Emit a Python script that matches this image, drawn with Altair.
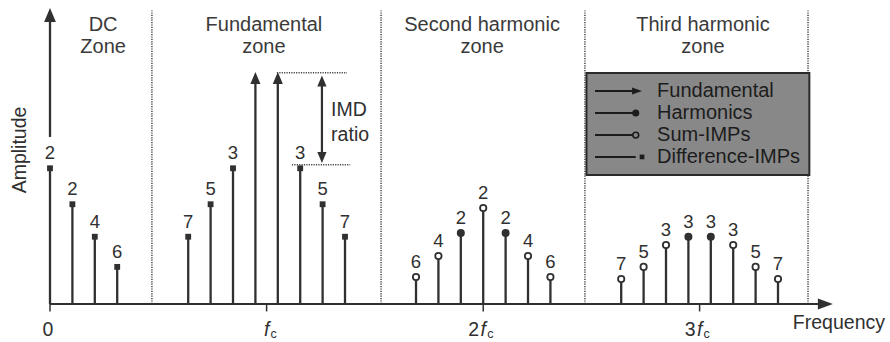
import altair as alt
import pandas as pd

# ---------------- data (frequency in units of tone spacing, amplitude: fundamental = 100) -------------
dc_freq = [0, 1, 2, 3]
dc_amp = [58.5, 43, 29, 16]
dc_order = ["2", "2", "4", "6"]

fund_freq = [9.17, 10.17]
fund_amp = [100, 100]

fimp_freq = [6.17, 7.17, 8.17, 11.17, 12.17, 13.17]
fimp_amp = [29, 43, 58.5, 58.5, 43, 29]
fimp_order = ["7", "5", "3", "3", "5", "7"]

sh_freq = [16.34, 17.34, 18.34, 19.34, 20.34, 21.34, 22.34]
sh_amp = [11.6, 20.7, 30.6, 41.4, 30.6, 20.7, 11.6]
sh_order = ["6", "4", "2", "2", "2", "4", "6"]
sh_kind = ["sum", "sum", "harm", "sum", "harm", "sum", "sum"]

th_freq = [25.5, 26.5, 27.5, 28.5, 29.5, 30.5, 31.5, 32.5]
th_amp = [10.8, 16, 25.4, 29, 29, 25.4, 16, 10.8]
th_order = ["7", "5", "3", "3", "3", "3", "5", "7"]
th_kind = ["sum", "sum", "sum", "harm", "harm", "sum", "sum", "sum"]

zone_bounds = [4.55, 14.78, 23.88, 33.84]
zone_top = 126.5
zone_centres = [2.37, 9.55, 19.29, 29.15]
zone_line1 = ["DC", "Fundamental", "Second harmonic", "Third harmonic"]
zone_line2 = ["Zone", "zone", "zone", "zone"]

tick_freq = [0, 9.67, 19.34, 29.0]
tick_prefix = ["", "", "2", "3"]

legend_labels = ["Fundamental", "Harmonics", "Sum-IMPs", "Difference-IMPs"]
legend_kind = ["arrow", "harm", "sum", "diff"]
legend_y = [91.8, 82.3, 72.8, 63.4]

imd_top = 99.7
imd_bottom = 60.0

# ---------------- helpers -------------
INK = "#303030"
FONT = "Liberation Sans"
xs = alt.Scale(domain=[-2.2321, 37.5], nice=False, zero=False)
ys = alt.Scale(domain=[-16.379, 131.034], nice=False, zero=False)

UP = "M0,0L-0.42,1L0.42,1Z"
DOWN = "M0,0L-0.42,-1L0.42,-1Z"
RIGHT = "M0,0L-1,-0.36L-1,0.36Z"


def X(f="f"):
    return alt.X(f"{f}:Q", scale=xs, axis=None)


def Y(f="a"):
    return alt.Y(f"{f}:Q", scale=ys, axis=None)


stems = pd.DataFrame({
    "f": dc_freq + fimp_freq + sh_freq + th_freq,
    "a": dc_amp + fimp_amp + sh_amp + th_amp,
    "o": dc_order + fimp_order + sh_order + th_order,
    "k": ["diff"] * 4 + ["diff"] * 6 + sh_kind + th_kind,
})
stems["b"] = 0.0

fund = pd.DataFrame({"f": fund_freq, "a": fund_amp, "b": 0.0})

layers = []

# zone dividers
div = pd.DataFrame({"f": zone_bounds, "b": 0.0, "t": zone_top})
layers.append(alt.Chart(div).mark_rule(color="#444", strokeWidth=1.5, strokeDash=[1.2, 1.2]).encode(
    x=X(), y=Y("b"), y2="t:Q"))

# stems
layers.append(alt.Chart(stems).mark_rule(color=INK, strokeWidth=2.3).encode(x=X(), y=Y("b"), y2="a:Q"))

# fundamental arrows
layers.append(alt.Chart(fund).transform_calculate(t="datum.a - 5/2.32").mark_rule(
    color=INK, strokeWidth=2.3).encode(x=X(), y=Y("b"), y2="t:Q"))
layers.append(alt.Chart(fund).mark_point(shape=UP, size=576, filled=True, color=INK, opacity=1,
                                         strokeWidth=0).encode(x=X(), y=Y()))

# markers
layers.append(alt.Chart(stems).transform_filter("datum.k == 'diff'").mark_point(
    shape="square", size=34, filled=True, color=INK, opacity=1).encode(x=X(), y=Y()))
layers.append(alt.Chart(stems).transform_filter("datum.k == 'harm'").mark_point(
    shape="circle", size=64, filled=True, color=INK, opacity=1).encode(x=X(), y=Y()))
layers.append(alt.Chart(stems).transform_filter("datum.k == 'sum'").mark_point(
    shape="circle", size=40, filled=True, fill="white", stroke=INK, strokeWidth=1.8, opacity=1).encode(
    x=X(), y=Y()))

# order numbers
layers.append(alt.Chart(stems).mark_text(dy=-15, fontSize=18.5, font=FONT, color=INK).encode(
    x=X(), y=Y(), text="o:N"))

# axes
xaxis = pd.DataFrame({"f": [0.0], "f2": [34.3], "a": [0.0], "tip": [34.95]})
layers.append(alt.Chart(xaxis).mark_rule(color=INK, strokeWidth=2.2).encode(x=X(), x2="f2:Q", y=Y()))
layers.append(alt.Chart(xaxis).mark_point(shape=RIGHT, size=900, filled=True, color=INK, opacity=1,
                                          strokeWidth=0).encode(x=X("tip"), y=Y()))
yaxis = pd.DataFrame({"f": [0.0], "a0": [72.0], "tip": [127.6]})
layers.append(alt.Chart(yaxis).transform_calculate(t="datum.tip - 6/2.32").mark_rule(
    color=INK, strokeWidth=2.3).encode(x=X(), y=Y("a0"), y2="t:Q"))
layers.append(alt.Chart(yaxis).mark_point(shape=UP, size=784, filled=True, color=INK, opacity=1,
                                          strokeWidth=0).encode(x=X(), y=Y("tip")))

ticks = pd.DataFrame({"f": tick_freq, "p": tick_prefix, "b": 0.0, "t": -3.2, "ly": -11.0})
layers.append(alt.Chart(ticks).mark_rule(color=INK, strokeWidth=1.5).encode(x=X(), y=Y("b"), y2="t:Q"))
layers.append(alt.Chart(ticks).transform_filter("datum.f == 0").mark_text(
    fontSize=19.5, font=FONT, color=INK, dx=-2).encode(x=X(), y=Y("ly"), text=alt.value("0")))
fticks = alt.Chart(ticks).transform_filter("datum.f > 0")
layers.append(fticks.mark_text(fontSize=19.5, font=FONT, color=INK, align="right", dx=-4).encode(
    x=X(), y=Y("ly"), text="p:N"))
layers.append(fticks.mark_text(fontSize=19.5, font=FONT, fontStyle="italic", color=INK, dx=0).encode(
    x=X(), y=Y("ly"), text=alt.value("f")))
layers.append(fticks.mark_text(fontSize=12.5, font=FONT, color=INK, align="left", dx=4, dy=4).encode(
    x=X(), y=Y("ly"), text=alt.value("c")))

axis_titles = pd.DataFrame({"f": [35.22], "a": [-8.2]})
layers.append(alt.Chart(axis_titles).mark_text(fontSize=19.5, font=FONT, color=INK).encode(
    x=X(), y=Y(), text=alt.value("Frequency")))
amp_title = pd.DataFrame({"f": [-1.34], "a": [66.4]})
layers.append(alt.Chart(amp_title).mark_text(fontSize=19.5, font=FONT, color=INK, angle=270).encode(
    x=X(), y=Y(), text=alt.value("Amplitude")))

# zone titles
zt = pd.DataFrame({"f": zone_centres, "l1": zone_line1, "l2": zone_line2, "y1": 120.3, "y2": 110.8})
layers.append(alt.Chart(zt).mark_text(fontSize=20, font=FONT, color="#3a3a3a").encode(
    x=X(), y=Y("y1"), text="l1:N"))
layers.append(alt.Chart(zt).mark_text(fontSize=20, font=FONT, color="#3a3a3a").encode(
    x=X(), y=Y("y2"), text="l2:N"))

# IMD ratio annotation
imd_lines = pd.DataFrame({"f": [10.13, 10.8], "f2": [13.26, 13.4], "a": [imd_top, imd_bottom]})
layers.append(alt.Chart(imd_lines).mark_rule(color="#444", strokeWidth=1.5, strokeDash=[1.2, 1.2]).encode(
    x=X(), x2="f2:Q", y=Y()))
imd_arrow = pd.DataFrame({"f": [12.14], "a": [imd_top - 1.2], "b": [imd_bottom + 0.8]})
layers.append(alt.Chart(imd_arrow).transform_calculate(
    t1="datum.a - 6/2.32", t2="datum.b + 6/2.32").mark_rule(color=INK, strokeWidth=2.2).encode(
    x=X(), y=Y("t1"), y2="t2:Q"))
layers.append(alt.Chart(imd_arrow).mark_point(shape=UP, size=484, filled=True, color=INK, opacity=1,
                                              strokeWidth=0).encode(x=X(), y=Y("a")))
layers.append(alt.Chart(imd_arrow).mark_point(shape=DOWN, size=484, filled=True, color=INK, opacity=1,
                                              strokeWidth=0).encode(x=X(), y=Y("b")))
imd_text = pd.DataFrame({"f": [12.55, 12.55], "a": [83.6, 72.8], "t": ["IMD", "ratio"]})
layers.append(alt.Chart(imd_text).mark_text(fontSize=19.5, font=FONT, color=INK, align="left").encode(
    x=X(), y=Y(), text="t:N"))

# legend box
box = pd.DataFrame({"f": [23.95], "f2": [33.9], "a": [99.6], "a2": [55.6]})
layers.append(alt.Chart(box).mark_rect(fill="#888888", stroke="#2a2a2a", strokeWidth=2).encode(
    x=X(), x2="f2:Q", y=Y(), y2="a2:Q"))
leg = pd.DataFrame({"y": legend_y, "l": legend_labels, "k": legend_kind,
                    "x0": 24.33, "x1": 26.15, "tip": 26.43, "tx": 27.1})
LEG_INK = "#1c1c1c"
layers.append(alt.Chart(leg).mark_rule(color=LEG_INK, strokeWidth=2).encode(
    x=X("x0"), x2="x1:Q", y=Y("y")))
layers.append(alt.Chart(leg).transform_filter("datum.k == 'arrow'").mark_point(
    shape=RIGHT, size=400, filled=True, color=LEG_INK, opacity=1, strokeWidth=0).encode(
    x=X("tip"), y=Y("y")))
layers.append(alt.Chart(leg).transform_filter("datum.k == 'harm'").mark_point(
    shape="circle", size=50, filled=True, color=LEG_INK, opacity=1).encode(x=X("x1"), y=Y("y")))
layers.append(alt.Chart(leg).transform_filter("datum.k == 'sum'").mark_point(
    shape="circle", size=34, filled=True, fill="#888888", stroke=LEG_INK, strokeWidth=1.6,
    opacity=1).encode(x=X("x1"), y=Y("y")))
layers.append(alt.Chart(leg).transform_filter("datum.k == 'diff'").mark_point(
    shape="square", size=22, filled=True, color=LEG_INK, opacity=1).encode(x=X("tip"), y=Y("y")))
layers.append(alt.Chart(leg).mark_text(fontSize=20, font=FONT, color=LEG_INK, align="left").encode(
    x=X("tx"), y=Y("y"), text="l:N"))

chart = alt.layer(*layers).properties(
    width=890, height=342, padding=0,
    autosize=alt.AutoSizeParams(type="none"),
    background="white",
).configure_view(stroke=None)

chart.save("out.html", embed_options={"renderer": "svg", "actions": False})
